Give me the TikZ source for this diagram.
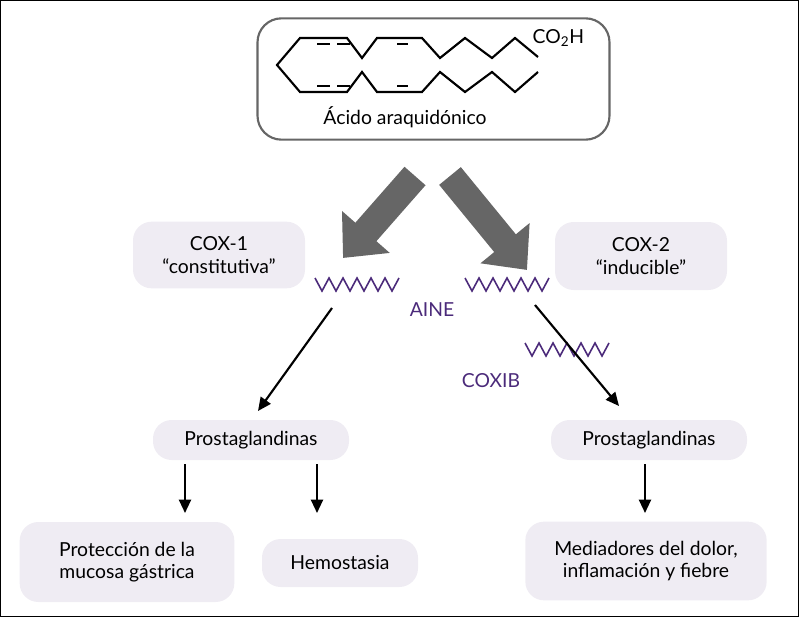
\documentclass[tikz,border=0pt]{standalone}
\usepackage{fontspec}
\setmainfont{Lato}
\usetikzlibrary{arrows.meta}
\definecolor{lav}{HTML}{EFECF3}
\definecolor{purp}{HTML}{4B2A7A}
\definecolor{ggray}{HTML}{666666}
\begin{document}
\begin{tikzpicture}[x=0.75pt,y=-0.75pt,
 lbox/.style={fill=lav,rounded corners=14pt,align=center,font=\fontsize{14.5}{17}\selectfont},
 txt/.style={font=\fontsize{14.5}{17}\selectfont},
 zz/.style={purp,line width=1.2pt,line join=miter},
 blk/.style={-{Triangle[length=10pt,width=9pt]},line width=1.6pt},
 big/.style={ggray,line width=21pt,-{Triangle[length=26pt,width=46pt]}},
 mol/.style={line width=1.6pt,line join=miter}]
\def\zig{-- ++(7,13) -- ++(7,-13)}
\useasboundingbox (0,0) rectangle (799,617);
\draw[line width=1pt] (0.5,0.5) rectangle (798.5,616.5);
\node[draw=ggray,line width=1.6pt,rounded corners=18pt,minimum width=264pt,minimum height=91pt] (top) at (433.5,79) {};
\draw[mol] (538,57)--(515,38)--(492,58)--(465,38)--(440,58)--(422,38)--(377,38)--(362,58)--(347,38)--(300,38)--(277,65)--(300,92)--(347,92)--(362,72)--(377,92)--(422,92)--(440,72)--(465,92)--(492,72)--(515,92)--(538,72);
\foreach \a/\b in {317/330,337/350,397/408}{\draw[mol] (\a,44)--(\b,44); \draw[mol] (\a,86)--(\b,86);}
\node[txt,anchor=west] (co) at (528,38) {CO\textsubscript{2}H};
\node[txt] (acido) at (405,117) {Ácido araquidónico};
\coordinate (l1) at (415,176); \coordinate (l2) at (343,258);
\coordinate (r1) at (450,176); \coordinate (r2) at (527,270);
\draw[big] (l1)--(l2);
\draw[big] (r1)--(r2);
\node[lbox,minimum width=129pt,minimum height=50pt] (cox1) at (219,255) {COX-1\\“constitutiva”};
\node[lbox,minimum width=129pt,minimum height=51pt] (cox2) at (641,256) {COX-2\\“inducible”};
\draw[zz] (315,278) \zig\zig\zig\zig\zig\zig;
\draw[zz] (465,278) \zig\zig\zig\zig\zig\zig;
\draw[zz] (525,343) \zig\zig\zig\zig\zig\zig;
\node[txt,purp] (aine) at (432,310) {AINE};
\node[txt,purp] (coxib) at (491,381) {COXIB};
\node[lbox,minimum width=147pt,minimum height=30pt] (pl) at (251,440) {Prostaglandinas};
\node[lbox,minimum width=147pt,minimum height=30pt] (pr) at (649,440) {Prostaglandinas};
\coordinate (a1) at (332,308); \coordinate (b1) at (258,411);
\coordinate (a2) at (535,305); \coordinate (b2) at (619,406);
\draw[blk] (a1)--(b1);
\draw[blk] (a2)--(b2);
\node[lbox,minimum width=161pt,minimum height=60pt] (prot) at (127,562) {Protección de la\\mucosa gástrica};
\node[lbox,minimum width=117pt,minimum height=36pt] (hemo) at (340,563) {Hemostasia};
\node[lbox,minimum width=181pt,minimum height=59pt] (med) at (646,561) {Mediadores del dolor,\\inflamación y fiebre};
\draw[blk] (185,464)--(185,513);
\draw[blk] (317,464)--(317,513);
\draw[blk] (645,464)--(645,513);
\end{tikzpicture}
\end{document}
